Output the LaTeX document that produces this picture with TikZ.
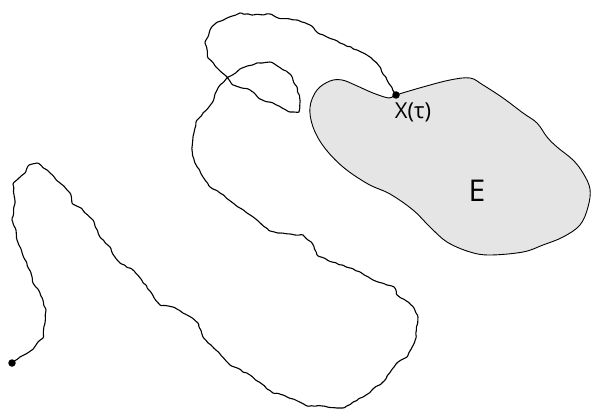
\documentclass[tikz,border=0pt]{standalone}
\usepackage{fontspec}
\setmainfont{Open Sans}
\usepackage{tikz}
\usetikzlibrary{positioning,decorations.pathmorphing}
\tikzstyle{region} = [draw=black, fill=gray!20, line width=0.9pt]
\tikzstyle{walk} = [draw, line width=1.1pt, line join=round, rounded corners=1pt, decorate, decoration={random steps, segment length=3.5pt, amplitude=0.8pt}]
\tikzstyle{dot} = [circle, fill=black, inner sep=0pt, minimum size=7.5pt]
\tikzstyle{lbl} = [inner sep=0pt]

\begin{document}
\begin{tikzpicture}[x=1pt, y=-1pt]
			\pgfmathsetseed{11}
			\useasboundingbox (0,0) rectangle (592,412);
			% Place nodes
			\coordinate (hitpt) at (396,95);
			\coordinate (startpt) at (12,363);
			% The set E
			\path [region] plot [smooth cycle, tension=0.6] coordinates {(hitpt) (423,87) (450,80) (470,78) (483,85) (503,98) (523,113) (537,123) (547,137) (557,147) (573,160) (583,173) (590,189) (588,207) (580,225) (563,237) (543,245) (523,252) (490,255) (470,252) (447,242) (430,227) (413,210) (390,194) (368,184) (343,167) (324,147) (313,127) (310,107) (317,90) (330,81) (342,80) (355,85) (373,93) (389,98)};
			% The path of the walk
			\path [walk] (startpt) -- (20,357) -- (32,350) -- (38,342) -- (43,338) -- (45,323) -- (46,310) -- (40,293) -- (33,283) -- (31,273) -- (24,258) -- (21,249) -- (17,240) -- (16,230) -- (12,220) -- (15,203) -- (13,184) -- (18,179) -- (25,173) -- (28,166) -- (37,163) -- (47,170) -- (60,183) -- (70,193) -- (72,203) -- (81,208) -- (93,220) -- (100,237) -- (110,247) -- (115,257) -- (120,263) -- (133,270) -- (141,279) -- (150,291) -- (160,305) -- (173,307) -- (187,315) -- (198,323) -- (203,337) -- (211,345) -- (230,365) -- (250,375) -- (273,393) -- (283,395) -- (307,406) -- (323,406) -- (343,408) -- (363,397) -- (383,382) -- (396,364) -- (407,357) -- (416,338) -- (418,317) -- (414,308) -- (405,300) -- (397,295) -- (395,288) -- (387,285) -- (378,282) -- (360,272) -- (350,268) -- (332,262) -- (318,256) -- (312,243) -- (303,235) -- (290,234) -- (278,233) -- (270,231) -- (257,220) -- (247,213) -- (233,203) -- (220,193) -- (210,187) -- (203,177) -- (195,163) -- (192,150) -- (193,137) -- (196,122) -- (203,113) -- (212,103) -- (218,88) -- (227,78) -- (240,69) -- (257,63) -- (270,62) -- (279,67) -- (290,74) -- (297,87) -- (300,100) -- (299,112) -- (290,112) -- (273,103) -- (260,99) -- (250,90) -- (233,85) -- (227,77) -- (216,67) -- (208,58) -- (205,43) -- (210,30) -- (216,23) -- (227,18) -- (240,13) -- (252,15) -- (270,14) -- (278,18) -- (297,20) -- (310,25) -- (318,33) -- (327,37) -- (340,43) -- (357,50) -- (370,57) -- (380,67) -- (387,80) -- (hitpt);
			\node [dot] (start) at (startpt) {};
			\node [dot] (hit) at (hitpt) {};
			% Labels
			\node [lbl, below right=5pt and -4pt of hit] (hitlbl) {\fontsize{22}{26}\selectfont X(τ)};
			\node [lbl] (setlbl) at (477,191) {\fontsize{30}{34}\selectfont E};
\end{tikzpicture}
\end{document}
